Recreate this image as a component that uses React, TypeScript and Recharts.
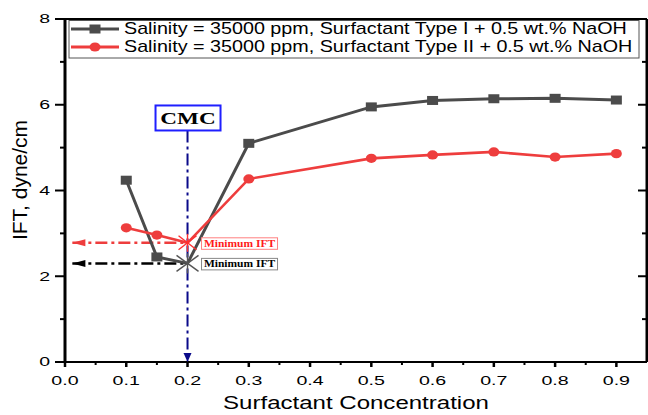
import React from 'react';
import { LineChart, Line, XAxis, YAxis, ReferenceLine, ReferenceDot } from 'recharts';

// Surfactant concentration (x) and interfacial tension readings (y, dyne/cm)
const concentration = [0.1, 0.15, 0.2, 0.3, 0.5, 0.6, 0.7, 0.8, 0.9];
const iftTypeI = [4.24, 2.45, 2.3, 5.1, 5.95, 6.1, 6.14, 6.15, 6.11];
const iftTypeII = [3.13, 2.96, 2.78, 4.27, 4.75, 4.83, 4.9, 4.78, 4.86];
const seriesNames = [
  'Salinity = 35000 ppm, Surfactant Type I + 0.5 wt.% NaOH',
  'Salinity = 35000 ppm, Surfactant Type II + 0.5 wt.% NaOH',
];

const xTicks = [0, 0.1, 0.2, 0.3, 0.4, 0.5, 0.6, 0.7, 0.8, 0.9];
const xMinorTicks = [0.05, 0.15, 0.25, 0.35, 0.45, 0.55, 0.65, 0.75, 0.85];
const yTicks = [0, 2, 4, 6, 8];
const yMinorTicks = [1, 3, 5, 7];
const xDomain = [0, 0.95];
const yDomain = [0, 8];

const cmcConcentration = 0.2;
const cmcLabelLevel = 5.4;
const arrowTipX = 0.012;
const xTitle = 'Surfactant Concentration';
const yTitle = 'IFT, dyne/cm';
const cmcText = 'CMC';
const minText = 'Minimum IFT';

const data = concentration.map((c, i) => ({ c, typeI: iftTypeI[i], typeII: iftTypeII[i] }));
const cmcIndex = concentration.indexOf(cmcConcentration);
const minTypeI = iftTypeI[cmcIndex];
const minTypeII = iftTypeII[cmcIndex];

const xAllTicks = [...xTicks, ...xMinorTicks].sort((a, b) => a - b);
const yAllTicks = [...yTicks, ...yMinorTicks].sort((a, b) => a - b);
const isMajor = (list: number[], v: number) => list.some((t) => Math.abs(t - v) < 1e-6);

const W = 648;
const H = 415;
const GRAY = '#4b4b4b';
const RED = '#ee3d3d';
const NAVY = '#0a0a8a';
const SANS = '"Liberation Sans", Arial, sans-serif';
const SERIF = '"Liberation Serif", "Times New Roman", serif';

const stretch = (x: number, s: number) => `translate(${x} 0) scale(${s} 1) translate(${-x} 0)`;

// Bottom axis: tick marks (major and minor) plus labels on the major ones
const XTick = (props: any) => {
  const { x, y, payload } = props;
  const major = isMajor(xTicks, payload.value);
  return (
    <g>
      <line x1={x} x2={x} y1={y} y2={y + (major ? 5 : 3)} stroke="#000" strokeWidth={major ? 2.5 : 2} />
      {major && (
        <text x={x} y={y + 23.5} textAnchor="middle" fontSize={12.5} fontFamily={SANS} fill="#000"
          transform={stretch(x, 1.57)}>
          {Number(payload.value).toFixed(1)}
        </text>
      )}
    </g>
  );
};

// Left axis: outward ticks and labels
const YTick = (props: any) => {
  const { x, y, payload } = props;
  const major = isMajor(yTicks, payload.value);
  return (
    <g>
      <line x1={x} x2={x - (major ? 10 : 5)} y1={y} y2={y} stroke="#000" strokeWidth={2} />
      {major && (
        <text x={x - 15} y={y + 4.5} textAnchor="end" fontSize={12.5} fontFamily={SANS} fill="#000"
          transform={stretch(x - 15, 1.56)}>
          {payload.value}
        </text>
      )}
    </g>
  );
};

// Right frame: inward ticks only
const RightTick = (props: any) => {
  const { x, y, payload } = props;
  const major = isMajor(yTicks, payload.value);
  return <line x1={x} x2={x - (major ? 9 : 5)} y1={y} y2={y} stroke="#000" strokeWidth={2} />;
};

// Regular markers; the CMC point is marked with an asterisk instead
const SquareDot = (props: any) => {
  const { cx, cy, index } = props;
  if (cx == null || cy == null || index === cmcIndex) return <g key={`sq-${index}`} />;
  return <rect key={`sq-${index}`} x={cx - 5.5} y={cy - 4.5} width={11} height={9} fill={GRAY} />;
};

const CircleDot = (props: any) => {
  const { cx, cy, index } = props;
  if (cx == null || cy == null || index === cmcIndex) return <g key={`ci-${index}`} />;
  return <ellipse key={`ci-${index}`} cx={cx} cy={cy} rx={5.5} ry={4.6} fill={RED} />;
};

const CmcBox = (props: any) => {
  const { cx, cy } = props;
  return (
    <g>
      <rect x={cx - 32} y={cy - 25} width={65} height={25} fill="#fff" stroke="#1f1fff" strokeWidth={2} />
      <text x={cx + 0.5} y={cy - 6.7} textAnchor="middle" fontFamily={SERIF} fontWeight="bold" fontSize={16}
        fill="#000" transform={stretch(cx + 0.5, 1.45)}>
        {cmcText}
      </text>
    </g>
  );
};

const makeMinMark = (color: string, border: string, textColor: string, ax: number, ay: number) => (props: any) => {
  const { cx, cy } = props;
  return (
    <g>
      <g stroke={color} strokeWidth={1.4}>
        <line x1={cx - ax} y1={cy - ay} x2={cx + ax} y2={cy + ay} />
        <line x1={cx - ax} y1={cy + ay} x2={cx + ax} y2={cy - ay} />
        <line x1={cx} y1={cy - ay - 2} x2={cx} y2={cy + ay + 2} />
      </g>
      <rect x={cx + 14} y={cy - 5} width={76} height={11.5} fill="#fff" stroke={border} strokeWidth={1} />
      <text x={cx + 52} y={cy + 4} textAnchor="middle" fontFamily={SERIF} fontWeight="bold" fontSize={10}
        fill={textColor} transform={stretch(cx + 52, 1.15)}>
        {minText}
      </text>
    </g>
  );
};

const makeLeftArrow = (color: string) => (props: any) => {
  const { cx, cy } = props;
  return <polygon points={`${cx},${cy} ${cx + 13},${cy - 3.5} ${cx + 13},${cy + 3.5}`} fill={color} />;
};

const DownArrow = (props: any) => {
  const { cx, cy } = props;
  return <polygon points={`${cx},${cy} ${cx - 4},${cy - 9} ${cx + 4},${cy - 9}`} fill={NAVY} />;
};

const Legend = () => {
  const rows = [
    { name: seriesNames[0], color: GRAY, y: 29, marker: 'square' },
    { name: seriesNames[1], color: RED, y: 47, marker: 'circle' },
  ];
  return (
    <g>
      <rect x={69} y={20.5} width={570} height={37.5} fill="#fff" stroke="#555" strokeWidth={1} />
      {rows.map((r) => (
        <g key={r.name}>
          <line x1={71} x2={119} y1={r.y} y2={r.y} stroke={r.color} strokeWidth={3} />
          {r.marker === 'square' ? (
            <rect x={89.5} y={r.y - 4.5} width={11} height={9} fill={r.color} />
          ) : (
            <ellipse cx={95} cy={r.y} rx={5.5} ry={4.6} fill={r.color} />
          )}
          <text x={124} y={r.y + 5.5} fontFamily={SANS} fontSize={16.8} fill="#000" transform={stretch(124, 1.175)}>
            {r.name}
          </text>
        </g>
      ))}
    </g>
  );
};

const dash = '12 4 3 4';

export default function App() {
  return (
    <div style={{ position: 'absolute', left: 0, top: 0, width: W, height: H, background: '#fff' }}>
      <LineChart width={W} height={H} data={data} margin={{ top: 18, right: 0, bottom: 0, left: 0 }}>
        <XAxis xAxisId={0} dataKey="c" type="number" domain={xDomain} ticks={xAllTicks} height={53}
          interval={0} allowDataOverflow tick={<XTick />} tickSize={0} tickMargin={0} tickLine={false}
          axisLine={{ stroke: '#000', strokeWidth: 2 }} />
        <XAxis xAxisId="top" orientation="top" dataKey="c" type="number" domain={xDomain} height={1}
          allowDataOverflow tick={false} tickLine={false} axisLine={{ stroke: '#000', strokeWidth: 2 }} />
        <YAxis yAxisId={0} type="number" domain={yDomain} ticks={yAllTicks} width={65} interval={0}
          allowDataOverflow tick={<YTick />} tickSize={0} tickMargin={0} tickLine={false}
          axisLine={{ stroke: '#000', strokeWidth: 3 }} />
        <YAxis yAxisId="right" orientation="right" type="number" domain={yDomain} ticks={yAllTicks}
          width={1} interval={0} allowDataOverflow tick={<RightTick />} tickSize={0} tickMargin={0}
          tickLine={false} axisLine={{ stroke: '#000', strokeWidth: 3 }} />

        <ReferenceLine segment={[{ x: cmcConcentration, y: cmcLabelLevel }, { x: cmcConcentration, y: 0 }]}
          stroke={NAVY} strokeWidth={2} strokeDasharray={dash} ifOverflow="visible" />
        <ReferenceLine segment={[{ x: arrowTipX, y: minTypeII }, { x: cmcConcentration, y: minTypeII }]}
          stroke={RED} strokeWidth={2.5} strokeDasharray={dash} ifOverflow="visible" />
        <ReferenceLine segment={[{ x: arrowTipX, y: minTypeI }, { x: cmcConcentration, y: minTypeI }]}
          stroke="#000" strokeWidth={2.5} strokeDasharray={dash} ifOverflow="visible" />

        <Line dataKey="typeI" name={seriesNames[0]} stroke={GRAY} strokeWidth={3} dot={SquareDot}
          activeDot={false} isAnimationActive={false} />
        <Line dataKey="typeII" name={seriesNames[1]} stroke={RED} strokeWidth={2.6} dot={CircleDot}
          activeDot={false} isAnimationActive={false} />

        <ReferenceDot x={arrowTipX} y={minTypeII} shape={makeLeftArrow(RED)} ifOverflow="visible" />
        <ReferenceDot x={arrowTipX} y={minTypeI} shape={makeLeftArrow('#000')} ifOverflow="visible" />
        <ReferenceDot x={cmcConcentration} y={0} shape={DownArrow} ifOverflow="visible" />
        <ReferenceDot x={cmcConcentration} y={cmcLabelLevel} shape={CmcBox} ifOverflow="visible" />
        <ReferenceDot x={cmcConcentration} y={minTypeII} shape={makeMinMark('#ff3030', '#ff8080', '#ff1a1a', 9, 7)}
          ifOverflow="visible" />
        <ReferenceDot x={cmcConcentration} y={minTypeI} shape={makeMinMark('#555', '#888', '#000', 11, 8)}
          ifOverflow="visible" />
      </LineChart>
      <svg width={W} height={H} style={{ position: 'absolute', left: 0, top: 0, pointerEvents: 'none' }}>
        <Legend />
        <text x={356} y={409} textAnchor="middle" fontFamily={SANS} fontSize={18.5} fill="#000"
          transform={stretch(356, 1.3)}>
          {xTitle}
        </text>
        <text x={27} y={180} textAnchor="middle" fontFamily={SANS} fontSize={21} fill="#000"
          transform="rotate(-90 27 180)">
          {yTitle}
        </text>
      </svg>
    </div>
  );
}
